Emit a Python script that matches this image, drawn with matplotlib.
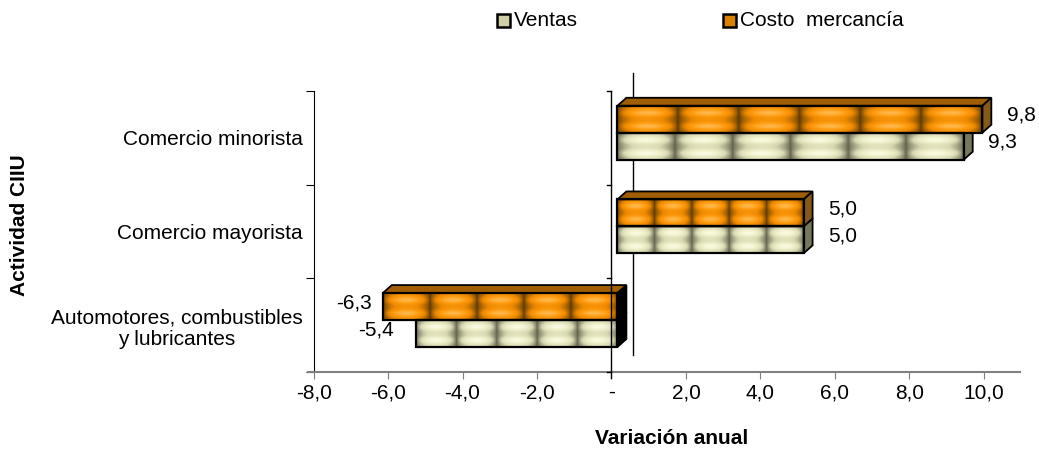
import numpy as np
import matplotlib.pyplot as plt
from matplotlib.colors import LinearSegmentedColormap
from matplotlib.patches import Polygon, Rectangle

plt.rcParams['font.family'] = ['Liberation Sans', 'DejaVu Sans']

# data (top to bottom, as in the chart)
categories = ["Comercio minorista", "Comercio mayorista",
              "Automotores, combustibles\ny lubricantes"]
ventas = [9.3, 5.0, -5.4]
costo = [9.8, 5.0, -6.3]
series_names = ["Ventas", "Costo  mercancía"]
xticks = [-8, -6, -4, -2, 0, 2, 4, 6, 8, 10]

# fake 3D look (Excel style)
OFF = 0.16          # bars start a bit right of the front zero line
DX, DY = 0.24, 0.085
BAR_H = 0.288
FS = 15

cm_orange = LinearSegmentedColormap.from_list(
    "orng", ["#5a3800", "#a86400", "#f08a00", "#ff9c10", "#ffb84a"])
cm_ventas = LinearSegmentedColormap.from_list(
    "vent", ["#5f5f48", "#9a9a7e", "#d8d8b2", "#ececc6", "#fafae0"])


def texture(n_tiles):
    xs = np.linspace(0, n_tiles, 800) % 1
    fx = np.abs(np.sin(np.pi * xs)) ** 0.7
    ys = np.linspace(0, 1, 80)
    gy = (0.5 - 0.5 * np.cos(2 * np.pi * 2 * ys)) ** 1.5
    return np.outer(0.62 + 0.38 * gy, fx)


def bar3d(ax, v, y0, cmap, top_col, side_col):
    x0, x1 = sorted([OFF, OFF + v])
    y1 = y0 + BAR_H
    n = max(5, round(abs(v) / 1.6))
    ax.imshow(texture(n), cmap=cmap, extent=[x0, x1, y0, y1], aspect="auto",
              origin="lower", interpolation="bilinear", zorder=3)
    ax.add_patch(Rectangle((x0, y0), x1 - x0, BAR_H, fill=False,
                           ec="black", lw=1.6, zorder=4))
    ax.add_patch(Polygon([(x0, y1), (x1, y1), (x1 + DX, y1 + DY), (x0 + DX, y1 + DY)],
                         fc=top_col, ec="black", lw=1.3, zorder=3))
    sc = side_col if v > 0 else "black"
    ax.add_patch(Polygon([(x1, y0), (x1 + DX, y0 + DY), (x1 + DX, y1 + DY), (x1, y1)],
                         fc=sc, ec="black", lw=1.3, zorder=3))


fig = plt.figure(figsize=(10.39, 4.53), dpi=100)
ax = fig.add_axes([308 / 1039, 1 - 372 / 453, (1020 - 308) / 1039, 310 / 453])
ax.set_xlim(-8.15, 10.97)
ax.set_ylim(0, 3.31)

n = len(categories)
for i, (vv, vc) in enumerate(zip(ventas, costo)):
    yc = (n - 1 - i) + 0.5 + 0.055
    bar3d(ax, vv, yc - BAR_H, cm_ventas, "#a8a888", "#77775e")
    bar3d(ax, vc, yc, cm_orange, "#a05e00", "#855a18")
    for v, yb, gneg in [(vc, yc + BAR_H / 2, 0.3), (vv, yc - BAR_H / 2, 0.6)]:
        txt = f"{v:.1f}".replace(".", ",")
        if v > 0:
            ax.text(OFF + v + 0.65, yb + 0.04, txt, ha="left", va="center", fontsize=FS)
        else:
            ax.text(OFF + v - gneg, yb + 0.04, txt, ha="right", va="center", fontsize=FS)

# back and front zero lines
ax.plot([0.59, 0.59], [0.18, 3.19], color="black", lw=1, zorder=1)
ax.plot([0, 0], [-0.065, 3], color="black", lw=1, zorder=5, clip_on=False)
for yt in range(n + 1):
    ax.plot([-0.13, 0], [yt, yt], color="black", lw=1, zorder=5, clip_on=False)

# axes styling
for s in ["top", "right"]:
    ax.spines[s].set_visible(False)
ax.spines["left"].set_position(("data", -8))
ax.spines["left"].set_bounds(0, 3)
ax.spines["bottom"].set_color("#808080")
ax.spines["bottom"].set_linewidth(1.5)

ax.set_xticks(xticks)
ax.set_xticklabels(["-" if t == 0 else f"{t:.1f}".replace(".", ",") for t in xticks],
                   fontsize=FS)
ax.tick_params(axis="x", direction="out", length=5, color="#808080", pad=3)

ax.set_yticks(range(n + 1))
ax.set_yticklabels([])
ax.tick_params(axis="y", which="major", direction="out", length=6, color="black")
ax.set_yticks([i + 0.5 for i in range(n)], minor=True)
ax.set_yticklabels(categories[::-1], minor=True, fontsize=FS)
ax.tick_params(axis="y", which="minor", length=0, pad=8)
for lbl in ax.get_yticklabels(minor=True):
    lbl.set_multialignment("center")

fig.text(20 / 1039, 1 - 225 / 453, "Actividad CIIU", rotation=90, fontsize=FS,
         fontweight="bold", ha="center", va="center")
fig.text(672 / 1039, 1 - 438 / 453, "Variación anual", fontsize=FS,
         fontweight="bold", ha="center", va="center")

# legend
for xs, name, col in [(497, series_names[0], "#cfcfa8"), (723, series_names[1], "#d98200")]:
    fig.add_artist(Rectangle((xs / 1039, 1 - 27 / 453), 13 / 1039, 13 / 453,
                             transform=fig.transFigure, fc=col, ec="black", lw=1.8))
    fig.text((xs + 17) / 1039, 1 - 20 / 453, name, fontsize=FS, ha="left", va="center")

fig.savefig("out.png", dpi=100)
